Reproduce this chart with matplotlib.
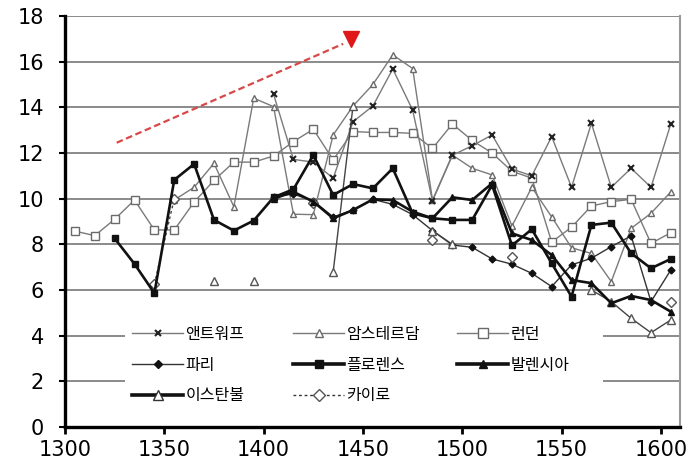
import numpy as np
import matplotlib
matplotlib.use('Agg')
import matplotlib.pyplot as plt
from matplotlib.lines import Line2D
from matplotlib.patches import Rectangle

nan = np.nan

years = [1305, 1315, 1325, 1335, 1345, 1355, 1365, 1375, 1385, 1395,
         1405, 1415, 1425, 1435, 1445, 1455, 1465, 1475, 1485, 1495,
         1505, 1515, 1525, 1535, 1545, 1555, 1565, 1575, 1585, 1595, 1605]

antwerp = [nan, nan, nan, nan, nan, nan, nan, nan, nan, nan,
           14.57, 11.72, 11.6, 10.9, 13.37, 14.06, 15.68, 13.88, 9.9, 11.9,
           12.32, 12.79, 11.3, 11.0, 12.72, 10.5, 13.3, 10.5, 11.33, 10.5, 13.28]

amsterdam = [nan, nan, nan, nan, nan, 9.94, 10.5, 11.55, 9.65, 14.4,
             14.03, 9.32, 9.3, 12.79, 14.06, 15.0, 16.3, 15.7, 9.94, 11.91,
             11.33, 11.04, 8.8, 10.5, 9.2, 7.85, 7.6, 6.37, 8.7, 9.36, 10.3]

london = [8.58, 8.38, 9.1, 9.94, 8.63, 8.63, 9.85, 10.8, 11.6, 11.6,
          11.87, 12.5, 13.04, 11.7, 12.94, 12.9, 12.9, 12.86, 12.2, 13.27,
          12.55, 12.0, 11.2, 10.9, 8.1, 8.75, 9.68, 9.87, 9.97, 8.04, 8.51]

paris = [nan, nan, nan, nan, nan, nan, nan, nan, nan, nan,
         10.09, 10.2, 9.9, 9.2, 9.5, 9.97, 9.75, 9.3, 8.6, 7.97,
         7.87, 7.36, 7.13, 6.73, 6.15, 7.1, 7.39, 7.9, 8.37, 5.49, 6.88]

florence = [nan, nan, 8.26, 7.14, 5.86, 10.82, 11.52, 9.07, 8.6, 9.04,
            10.06, 10.41, 11.91, 10.16, 10.64, 10.45, 11.33, 9.36, 9.14, 9.07,
            9.07, 10.6, 7.95, 8.66, 7.17, 5.71, 8.85, 8.95, 7.61, 6.95, 7.36]

valencia = [nan, nan, nan, nan, nan, nan, nan, nan, nan, nan,
            10.0, 10.3, 9.87, 9.14, 9.5, 9.97, 9.94, 9.43, 9.14, 10.06,
            9.94, 10.67, 8.48, 8.19, 7.53, 6.44, 6.3, 5.42, 5.74, 5.56, 5.05]

istanbul = [nan, nan, nan, nan, nan, nan, nan, 6.41, nan, 6.41,
            nan, nan, nan, 6.8, 14.06, nan, nan, nan, 8.6, 8.0,
            nan, nan, nan, nan, nan, nan, 6.0, 5.49, 4.76, 4.13, 4.69]

cairo = [nan, nan, nan, nan, 6.26, 10.0, nan, nan, nan, nan,
         nan, nan, 9.8, nan, nan, nan, nan, nan, 8.2, nan,
         nan, nan, 7.46, nan, nan, nan, nan, nan, nan, nan, 5.49]

names = ['앤트워프', '암스테르담', '런던', '파리', '플로렌스', '발렌시아', '이스탄불', '카이로']

yticks = [0, 2, 4, 6, 8, 10, 12, 14, 16, 18]
xticks = [1300, 1350, 1400, 1450, 1500, 1550, 1600]

# trend arrow (annotation)
arrow_start = (1326, 12.45)
arrow_end = (1440, 16.78)
arrow_head = (1444, 17.0)

plt.rcParams['font.family'] = ['DejaVu Sans']
fig = plt.figure(figsize=(6.99, 4.69), dpi=100)
W, H = 699, 469
ax = fig.add_axes([65 / W, 1 - 427 / H, 615 / W, 411 / H])

ax.set_xlim(1300, 1609.6)
ax.set_ylim(0, 18)
ax.set_axisbelow(True)
ax.yaxis.grid(True, color='#8a8a8a', lw=1.4)
ax.xaxis.grid(False)

GRAY = '#7a7a7a'
y = lambda s: np.array(s, dtype=float)

ax.plot(years, y(london), color=GRAY, lw=1.0, marker='s', ms=5.5, mfc='white', mec='#6a6a6a', mew=1.0, zorder=3)
ax.plot(years, y(amsterdam), color=GRAY, lw=1.0, marker='^', ms=5, mfc='white', mec='#6a6a6a', mew=1.0, zorder=3)
ax.plot(years, y(antwerp), color=GRAY, lw=1.0, marker='x', ms=4.5, mec='#222222', mew=1.5, zorder=3)
ax.plot(years, y(paris), color='#333333', lw=1.0, marker='D', ms=3.5, mfc='#111111', mec='#111111', zorder=4)
ax.plot(years, y(valencia), color='#111111', lw=1.9, marker='^', ms=4.2, mfc='#111111', mec='#111111', zorder=5)
ax.plot(years, y(florence), color='#111111', lw=1.9, marker='s', ms=5, mfc='#111111', mec='#111111', zorder=5)
ax.plot(years, y(istanbul), color='#444444', lw=1.0, marker='^', ms=6, mfc='white', mec='#555555', mew=1.0, zorder=4)
ax.plot(years, y(cairo), color='#444444', lw=1.0, ls=(0, (2, 2)), marker='D', ms=5, mfc='white', mec='#555555', mew=1.0, zorder=4)

# trend arrow
ax.plot([arrow_start[0], arrow_end[0]], [arrow_start[1], arrow_end[1]],
        color='#d84848', lw=1.6, ls=(0, (3, 1.6)), zorder=6)
ax.plot([arrow_head[0]], [arrow_head[1]], marker='v', ms=11, color='#e01818', zorder=6)

# white panel behind legend
ax.add_patch(Rectangle((0.0976, 0.03), 0.778, 0.255, transform=ax.transAxes,
                       facecolor='white', edgecolor='none', zorder=1))

# spines and ticks
for s in ['left', 'bottom']:
    ax.spines[s].set_color('black')
    ax.spines[s].set_linewidth(2.4)
ax.spines['top'].set_visible(False)
ax.spines['right'].set_color('#9a9a9a')
ax.spines['right'].set_linewidth(1.5)

ax.set_xticks(xticks)
ax.set_yticks(yticks)
ax.set_xticklabels([str(v) for v in xticks])
ax.set_yticklabels([str(v) for v in yticks])
ax.tick_params(axis='x', direction='out', length=5, width=2, color='black', labelsize=15, pad=4)
ax.tick_params(axis='y', direction='out', length=4, width=1.5, color='black', labelsize=15, pad=11)

# legend (three columns)
kfont = {'family': ['Noto Sans CJK KR', 'DejaVu Sans'], 'size': 11.5}
h_antwerp = Line2D([], [], color=GRAY, lw=1.0, marker='x', ms=4.5, mec='#222222', mew=1.5)
h_amst = Line2D([], [], color=GRAY, lw=1.0, marker='^', ms=6, mfc='white', mec='#6a6a6a')
h_london = Line2D([], [], color=GRAY, lw=1.0, marker='s', ms=7, mfc='white', mec='#6a6a6a')
h_paris = Line2D([], [], color='#333333', lw=1.0, marker='D', ms=4, mfc='#111111', mec='#111111')
h_flor = Line2D([], [], color='#111111', lw=2.6, marker='s', ms=6, mfc='#111111', mec='#111111')
h_val = Line2D([], [], color='#111111', lw=2.6, marker='^', ms=5.5, mfc='#111111', mec='#111111')
h_ist = Line2D([], [], color='#111111', lw=2.6, marker='^', ms=7, mfc='white', mec='#333333')
h_cairo = Line2D([], [], color='#333333', lw=1.0, ls=(0, (2, 2)), marker='D', ms=6, mfc='white', mec='#555555')

cols = [([h_antwerp, h_paris, h_ist], [names[0], names[3], names[6]], 132),
        ([h_amst, h_flor, h_cairo], [names[1], names[4], names[7]], 293),
        ([h_london, h_val], [names[2], names[5]], 457)]
for hs, ls_, xpx in cols:
    fig.legend(hs, ls_, loc='upper left', bbox_to_anchor=(xpx / W, 1 - 326 / H),
               frameon=False, prop=kfont, borderpad=0, handlelength=3.2,
               handletextpad=0.15, labelspacing=0.85, borderaxespad=0)

fig.savefig('out.png', dpi=100)
